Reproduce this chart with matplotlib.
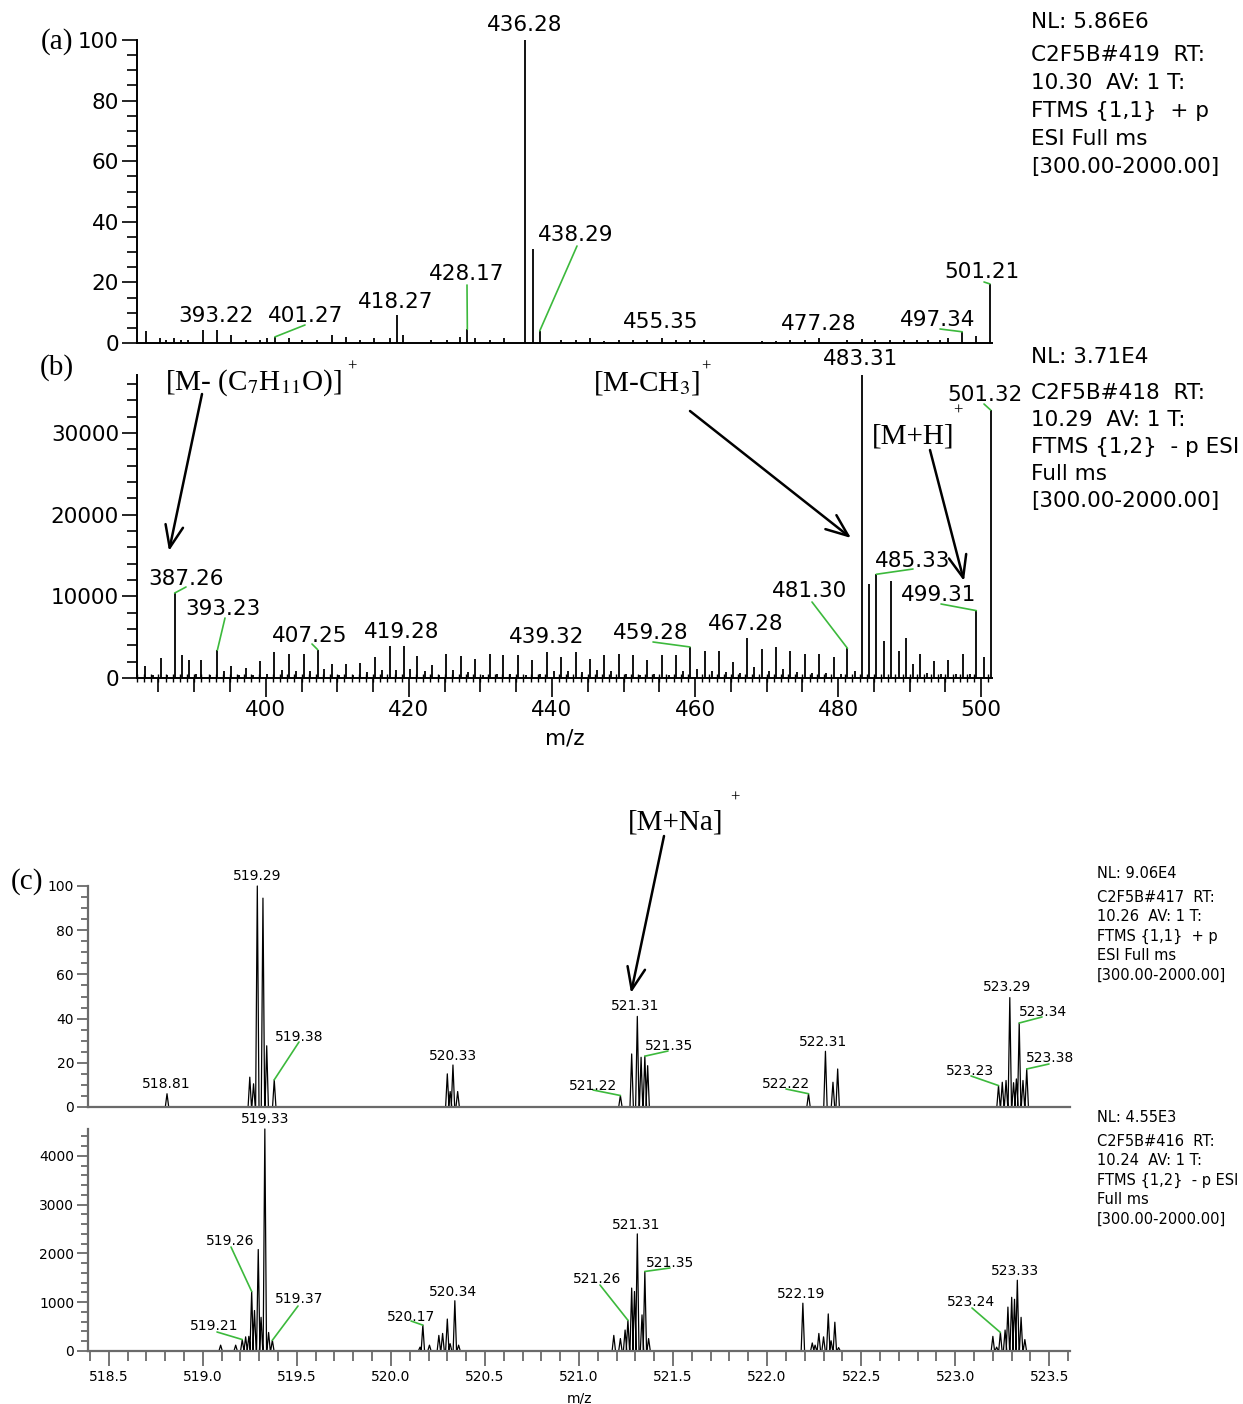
import numpy as np
import matplotlib.pyplot as plt
from matplotlib.patches import FancyArrowPatch
from matplotlib.ticker import MultipleLocator, FormatStrFormatter

plt.rcParams['font.family'] = 'DejaVu Sans'
plt.rcParams['mathtext.fontset'] = 'stix'

# ---- (a) positive ion scan, relative abundance ----
a_mz = [383.2, 385.2, 386.0, 387.2, 388.2, 389.1, 391.2, 393.22, 395.2, 397.3,
        399.2, 400.2, 401.27, 403.2, 405.1, 407.1, 409.2, 411.2, 413.1, 415.1,
        417.3, 418.27, 419.2, 423.1, 425.3, 427.2, 428.17, 429.2, 431.3, 433.3,
        436.28, 437.28, 438.29, 441.2, 443.3, 445.3, 447.3, 449.3, 451.3, 453.3,
        455.35, 457.3, 459.3, 461.3, 469.3, 471.3, 473.3, 475.3, 477.28, 481.3,
        483.3, 485.2, 487.3, 489.2, 491.0, 492.6, 494.3, 495.4, 497.34, 499.2,
        501.21]
a_int = [3.8, 1.6, 1.0, 1.5, 1.0, 1.0, 4.3, 4.2, 2.5, 1.0,
         1.0, 1.5, 2.0, 1.5, 1.0, 1.0, 2.8, 2.0, 1.0, 1.5,
         1.5, 9.1, 2.5, 1.0, 1.0, 2.0, 4.5, 1.5, 1.0, 1.5,
         100.0, 31.0, 4.0, 1.0, 1.0, 1.5, 0.8, 1.0, 1.0, 1.0,
         1.8, 1.0, 1.0, 1.0, 0.8, 0.8, 1.0, 1.0, 1.5, 1.0,
         1.2, 1.0, 1.0, 1.0, 1.0, 1.0, 1.0, 1.5, 3.7, 2.2,
         19.5]

# ---- (b) negative ion scan, counts ----
b_mz = [383.1, 384.2, 385.3, 386.2, 387.26, 388.25, 389.2, 390.2, 391.0, 392.2,
        393.23, 394.2, 395.2, 396.2, 397.2, 398.2, 399.2, 400.2, 401.2, 402.2,
        403.3, 404.2, 405.3, 406.2, 407.25, 408.2, 409.2, 410.2, 411.2, 412.2,
        413.2, 414.2, 415.3, 416.3, 417.3, 418.2, 419.28, 420.2, 421.2, 422.3,
        423.2, 424.2, 425.2, 426.2, 427.3, 428.3, 429.3, 430.3, 431.3, 432.3,
        433.2, 434.2, 435.3, 436.3, 437.2, 438.3, 439.32, 440.3, 441.2, 442.3,
        443.3, 444.2, 445.3, 446.3, 447.3, 448.3, 449.3, 450.3, 451.3, 452.3,
        453.3, 454.3, 455.35, 456.3, 457.35, 458.3, 459.28, 460.3, 461.35, 462.3,
        463.3, 464.35, 465.3, 466.3, 467.28, 468.3, 469.3, 470.35, 471.35, 472.35,
        473.3, 474.3, 475.3, 476.3, 477.35, 478.35, 479.35, 480.35, 481.30, 482.35,
        483.31, 484.35, 485.33, 486.4, 487.35, 488.45, 489.5, 490.45, 491.4, 492.4,
        493.45, 494.4, 495.4, 496.45, 497.4, 498.45, 499.31, 500.4, 501.32]
b_int = [1470, 400, 2450, 400, 10400, 2800, 2250, 500, 2250, 400,
         3400, 800, 1470, 400, 1270, 400, 2040, 500, 3180, 940,
         2980, 860, 2980, 820, 3470, 1140, 1670, 400, 1670, 400,
         1880, 730, 2570, 940, 3880, 940, 3920, 1060, 2700, 820,
         1630, 400, 2980, 940, 2650, 730, 2370, 400, 2980, 500,
         2780, 500, 2780, 400, 2250, 500, 3180, 820, 2570, 820,
         3180, 730, 2370, 940, 2780, 820, 2980, 500, 2780, 400,
         2250, 500, 2780, 400, 2780, 820, 3800, 1100, 3350, 800,
         3350, 700, 2000, 600, 4900, 1300, 3550, 900, 3750, 1100,
         3350, 700, 2940, 570, 2940, 600, 2530, 500, 3630, 900,
         37100, 11500, 12700, 4570, 11900, 3350, 4860, 1700, 2940, 600,
         2040, 500, 2240, 500, 2940, 500, 8250, 2610, 32800]

# ---- (c) zoomed scans around the [M+Na]+ region ----
c1_mz = [518.81, 519.25, 519.27, 519.29, 519.32, 519.34, 519.38,
         520.30, 520.315, 520.33, 520.355,
         521.22, 521.28, 521.31, 521.33, 521.35, 521.365,
         522.22, 522.31, 522.35, 522.375,
         523.23, 523.25, 523.27, 523.29, 523.31, 523.325, 523.34, 523.36, 523.38]
c1_int = [6.0, 13.5, 10.5, 100.0, 94.5, 27.7, 12.3,
          15.0, 7.0, 19.0, 7.0,
          5.2, 24.0, 41.0, 22.5, 23.0, 18.7,
          6.0, 25.2, 11.2, 17.2,
          9.7, 11.2, 12.0, 49.5, 11.0, 12.7, 38.0, 12.0, 17.2]

c2_mz = [519.095, 519.175, 519.21, 519.228, 519.245, 519.26, 519.275, 519.295,
         519.31, 519.33, 519.35, 519.37,
         520.155, 520.17, 520.205, 520.255, 520.275, 520.30, 520.315, 520.34, 520.36,
         521.185, 521.22, 521.245, 521.26, 521.28, 521.295, 521.31, 521.335,
         521.35, 521.37,
         522.19, 522.24, 522.255, 522.275, 522.30, 522.325, 522.34, 522.36, 522.38,
         523.20, 523.22, 523.24, 523.265, 523.28, 523.30, 523.315, 523.33,
         523.35, 523.37]
c2_int = [120, 120, 235, 290, 300, 1220, 830, 2080,
          690, 4550, 380, 220,
          80, 530, 120, 320, 360, 655, 150, 1030, 120,
          320, 255, 430, 630, 1290, 1220, 2400, 740,
          1630, 255,
          980, 165, 120, 360, 290, 760, 210, 590, 70,
          300, 80, 380, 430, 900, 1100, 1060, 1450,
          690, 235]

# labelled peaks: m/z -> (label centre px, leader start px or None)
a_labels = {436.28: ((525, 23), None), 438.29: ((576, 233), (577, 246)),
            428.17: ((467, 272), (467, 285)), 418.27: ((396, 300), None),
            401.27: ((306, 314), (305, 325)), 393.22: ((216, 314), None),
            455.35: ((661, 320), None), 477.28: ((819, 322), None),
            497.34: ((938, 318), (940, 329)), 501.21: ((982, 270), (984, 282))}
b_labels = {387.26: ((186, 577), (186, 587)), 393.23: ((223, 607), (225, 618)),
            407.25: ((310, 634), (312, 644)), 419.28: ((402, 630), None),
            439.32: ((547, 635), None), 459.28: ((651, 631), (653, 642)),
            467.28: ((746, 622), None), 481.30: ((810, 589), (812, 602)),
            483.31: ((861, 357), None), 485.33: ((913, 559), (913, 569)),
            499.31: ((939, 593), (941, 604)), 501.32: ((985, 393), (984, 404))}
c1_labels = {519.29: ((257, 875), None), 519.38: ((299, 1036), (299, 1042)),
             518.81: ((166, 1083), None), 520.33: ((453, 1055), None),
             521.22: ((593, 1085), (593, 1090)), 521.31: ((635, 1005), None),
             521.35: ((669, 1045), (668, 1051)), 522.22: ((786, 1083), (786, 1089)),
             522.31: ((823, 1041), None), 523.23: ((970, 1070), (971, 1076)),
             523.29: ((1007, 986), None), 523.34: ((1043, 1011), (1042, 1017)),
             523.38: ((1050, 1057), (1049, 1064))}
c2_labels = {519.33: ((265, 1118), None), 519.26: ((230, 1240), (231, 1247)),
             519.37: ((299, 1298), (298, 1306)), 519.21: ((214, 1325), (217, 1332)),
             520.17: ((411, 1316), (411, 1321)), 520.34: ((453, 1291), None),
             521.26: ((597, 1278), (600, 1285)), 521.31: ((636, 1224), None),
             521.35: ((670, 1262), (670, 1268)), 522.19: ((801, 1293), None),
             523.24: ((971, 1301), (972, 1308)), 523.33: ((1015, 1270), None)}

nl_a = ["NL: 5.86E6", "C2F5B#419  RT:", "10.30  AV: 1 T:", "FTMS {1,1}  + p",
        "ESI Full ms", "[300.00-2000.00]"]
nl_b = ["NL: 3.71E4", "C2F5B#418  RT:", "10.29  AV: 1 T:", "FTMS {1,2}  - p ESI",
        "Full ms", "[300.00-2000.00]"]
nl_c1 = ["NL: 9.06E4", "C2F5B#417  RT:", "10.26  AV: 1 T:", "FTMS {1,1}  + p",
         "ESI Full ms", "[300.00-2000.00]"]
nl_c2 = ["NL: 4.55E3", "C2F5B#416  RT:", "10.24  AV: 1 T:", "FTMS {1,2}  - p ESI",
         "Full ms", "[300.00-2000.00]"]

GREEN = '#3cb93c'
GREY = '#6a6a6a'
W, H = 1243, 1404
fig = plt.figure(figsize=(W / 100, H / 100), dpi=100)


def add_ax(l, t, r, b):
    ax = fig.add_axes([l / W, 1 - b / H, (r - l) / W, (b - t) / H])
    ax.patch.set_visible(False)
    return ax


def fpos(x, y):
    # pixel coords from the top-left corner -> figure fraction
    return (x / W, 1 - y / H)


def ftext(x, y, s, **kw):
    return fig.text(*fpos(x, y), s, **kw)


def peak_labels(ax, mz, inten, labels, size, cap):
    for m, ((x, y), lead) in labels.items():
        h = inten[mz.index(m)]
        ftext(x, y + cap / 2, f'{m:.2f}', ha='center', va='baseline', fontsize=size)
        if lead is not None:
            ax.annotate('', xy=(m, h), xycoords='data',
                        xytext=fpos(*lead), textcoords='figure fraction',
                        arrowprops=dict(arrowstyle='-', color=GREEN, lw=1.2,
                                        shrinkA=0, shrinkB=0),
                        annotation_clip=False)


def profile(ax, mz, inten, w=0.009):
    xs, ys = [], []
    for m, h in zip(mz, inten):
        xs += [m - w, m, m + w, np.nan]
        ys += [0, h, 0, np.nan]
    ax.plot(xs, ys, color='black', lw=0.9, clip_on=False)


def callout(x0, y0, x1, y1):
    fig.add_artist(FancyArrowPatch(fpos(x0, y0), fpos(x1, y1),
                                   transform=fig.transFigure,
                                   arrowstyle='->,head_length=0.8,head_width=0.32',
                                   mutation_scale=20, lw=1.8, color='black',
                                   shrinkA=0, shrinkB=0))


# ---- panels (a) and (b) ----
axA = add_ax(137, 40, 992, 343)
axB = add_ax(137, 375, 992, 678)

for ax in (axA, axB):
    for s in ('top', 'right'):
        ax.spines[s].set_visible(False)
    for s in ('left', 'bottom'):
        ax.spines[s].set_linewidth(1.4)
    ax.set_xlim(382, 501.5)
    ax.tick_params(axis='y', which='major', length=11, width=1.2, pad=2, labelsize=15.5)
    ax.tick_params(axis='y', which='minor', length=7, width=1.2)

axA.vlines(a_mz, 0, a_int, color='black', lw=1.3)
axA.set_ylim(0, 100)
axA.yaxis.set_major_locator(MultipleLocator(20))
axA.yaxis.set_minor_locator(MultipleLocator(5))
axA.tick_params(axis='x', which='both', bottom=False, labelbottom=False)

axB.vlines(b_mz, 0, b_int, color='black', lw=1.3)
axB.set_ylim(0, 37100)
axB.yaxis.set_major_locator(MultipleLocator(10000))
axB.yaxis.set_minor_locator(MultipleLocator(2000))
axB.xaxis.set_major_locator(MultipleLocator(20))
axB.xaxis.set_minor_locator(MultipleLocator(1))
axB.tick_params(axis='x', which='major', length=14, width=1.2, pad=2, labelsize=15.5)
axB.tick_params(axis='x', which='minor', length=6, width=1.0, direction='inout')
sec = axB.secondary_xaxis('bottom')
sec.set_xticks([t for t in range(385, 501, 5) if t % 20])
sec.tick_params(axis='x', length=10, width=1.2, labelbottom=False)
sec.spines['bottom'].set_visible(False)
axB.set_xlabel('m/z', fontsize=15.5, labelpad=6)

peak_labels(axA, a_mz, a_int, a_labels, 15.5, 15.6)
peak_labels(axB, b_mz, b_int, b_labels, 15.5, 15.6)

# ---- panel (c) ----
axC1 = add_ax(88, 886, 1070, 1107)
axC2 = add_ax(88, 1129, 1070, 1351)
for ax in (axC1, axC2):
    for s in ('top', 'right'):
        ax.spines[s].set_visible(False)
    for s in ('left', 'bottom'):
        ax.spines[s].set_linewidth(1.6)
        ax.spines[s].set_color(GREY)
    ax.set_xlim(518.39, 523.61)
    ax.tick_params(axis='both', which='both', color=GREY, width=1.3)
    ax.tick_params(axis='y', which='major', length=8, pad=2, labelsize=10)
    ax.tick_params(axis='y', which='minor', length=5)

profile(axC1, c1_mz, c1_int)
axC1.set_ylim(0, 100)
axC1.yaxis.set_major_locator(MultipleLocator(20))
axC1.yaxis.set_minor_locator(MultipleLocator(5))
axC1.tick_params(axis='x', which='both', bottom=False, labelbottom=False)

profile(axC2, c2_mz, c2_int)
axC2.set_ylim(0, 4550)
axC2.yaxis.set_major_locator(MultipleLocator(1000))
axC2.yaxis.set_minor_locator(MultipleLocator(200))
axC2.xaxis.set_major_locator(MultipleLocator(0.5))
axC2.xaxis.set_minor_locator(MultipleLocator(0.1))
axC2.xaxis.set_major_formatter(FormatStrFormatter('%.1f'))
axC2.tick_params(axis='x', which='major', length=11, pad=3, labelsize=10)
axC2.tick_params(axis='x', which='minor', length=7)
axC2.set_xlabel('m/z', fontsize=10, labelpad=5)

peak_labels(axC1, c1_mz, c1_int, c1_labels, 10, 10.2)
peak_labels(axC2, c2_mz, c2_int, c2_labels, 10, 10.2)

# ---- scan header blocks ----
def header(lines, x, y0, gaps, size):
    y = y0
    for i, s in enumerate(lines):
        ftext(x, y, s, ha='left', va='center', fontsize=size)
        y += gaps[0] if i == 0 else gaps[1]

header(nl_a, 1031, 22, (33, 28), 15.5)
header(nl_b, 1031, 357, (36, 27), 15.5)
header(nl_c1, 1097, 873, (24, 19.5), 10.5)
header(nl_c2, 1097, 1118, (23, 19.5), 10.5)

# ---- panel letters and ion assignments ----
serif = dict(family='Liberation Serif', fontsize=21, ha='center', va='center')
plus = dict(family='Liberation Serif', fontsize=12, ha='center', va='center')
ftext(57, 42, '(a)', **serif)
ftext(57, 368, '(b)', **serif)
ftext(27, 882, '(c)', **serif)

ftext(254, 383, r'[M- (C$_7$H$_{11}$O)]', **serif)
ftext(352, 367, '+', **plus)
ftext(647, 383, r'[M-CH$_3$]', **serif)
ftext(706, 367, '+', **plus)
ftext(913, 436, '[M+H]', **serif)
ftext(958, 411, '+', **plus)
ftext(676, 823, '[M+Na]', **serif)
ftext(735, 798, '+', **plus)

callout(202, 394, 169, 551)
callout(690, 411, 851, 538)
callout(930, 450, 964, 581)
callout(664, 836, 631, 993)

fig.savefig('out.png', dpi=100)
